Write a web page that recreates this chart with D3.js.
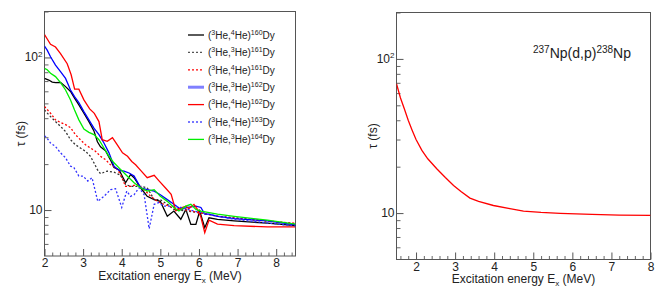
<!DOCTYPE html>
<html>
<head>
<meta charset="utf-8">
<script src="https://cdn.jsdelivr.net/npm/d3@7"></script>
<style>
  body { margin: 0; background: #fff; }
  svg { font-family: "Liberation Sans", Arial, Helvetica, sans-serif; }
  svg text { fill: #222; }
</style>
</head>
<body>
<script>
// ---- data: [E (MeV), tau (fs)] ----
var dy160 = [[2.0,72.9],[2.11,71.1],[2.2,69],[2.29,68.4],[2.415,68.7],[2.545,64.4],[2.674,59.8],[2.778,54.1],[2.89,48.9],[3.02,43.1],[3.15,38.0],[3.28,33.0],[3.37,28.0],[3.45,26.0],[3.58,24.5],[3.7,21.5],[3.8,19.0],[3.93,18.4],[4.1,15.1],[4.23,17.1],[4.32,16.3],[4.49,14.0],[4.66,12.3],[4.84,11.7],[5.0,11.4],[5.18,9.1],[5.35,9.85],[5.53,8.7],[5.66,10.1],[5.79,8.06],[5.92,8.06],[6.02,9.85],[6.15,7.67],[6.26,8.9],[6.48,8.7],[6.91,8.5],[7.77,8.2],[8.5,7.9]];
var dy161a = [[2.0,45.3],[2.11,42.1],[2.24,39.0],[2.415,35.3],[2.545,32.7],[2.674,28.9],[2.8,26.8],[2.93,25.5],[3.06,24.3],[3.19,22.5],[3.28,20.4],[3.37,18.4],[3.45,17.3],[3.62,18.0],[3.8,17.7],[3.97,16.9],[4.1,14.7],[4.23,14.3],[4.49,14.3],[4.66,14.0],[4.84,11.7],[5.0,11.7],[5.18,10.9],[5.35,10.1],[5.7,9.85],[6.05,9.6],[6.48,9.1],[6.91,8.9],[7.77,8.5],[8.5,8.1]];
var dy161b = [[2.0,47.7],[2.156,43.1],[2.285,39.0],[2.415,37.5],[2.545,36.3],[2.674,34.7],[2.8,31.2],[2.93,28.9],[3.06,26.8],[3.19,25.5],[3.32,24.3],[3.45,22.5],[3.58,21.4],[3.7,19.9],[3.85,18.9],[3.97,17.1],[4.1,14.3],[4.23,14.3],[4.4,14.7],[4.58,13.6],[4.75,12.3],[4.92,11.4],[5.1,10.9],[5.3,10.4],[5.6,10.1],[6.0,9.6],[6.5,9.1],[7.0,8.8],[7.8,8.45],[8.5,8.2]];
var dy162a = [[2.0,118.6],[2.07,111.6],[2.156,101],[2.285,89.1],[2.415,80.7],[2.545,72.9],[2.674,61.2],[2.778,55.4],[2.89,50.6],[3.02,44.2],[3.15,39.0],[3.28,34.4],[3.41,31.2],[3.54,27.5],[3.67,23.7],[3.8,19.4],[3.93,18.2],[4.06,18.0],[4.19,17.5],[4.32,16.7],[4.49,14.0],[4.66,13.6],[4.84,13.3],[5.0,12.6],[5.18,11.7],[5.35,10.9],[5.53,10.1],[5.7,10.4],[5.92,10.6],[6.05,10.4],[6.15,9.4],[6.26,9.4],[6.48,9.1],[6.91,8.8],[7.77,8.5],[8.5,8.0]];
var dy162b = [[2.0,141],[2.156,122],[2.285,117],[2.415,106],[2.588,91],[2.69,77],[2.78,62],[2.89,62],[3.02,52.7],[3.17,46],[3.29,43],[3.41,38],[3.495,28.9],[3.625,28.2],[3.76,29.8],[3.89,26.6],[4.02,23.7],[4.15,22.5],[4.26,20.8],[4.36,19.8],[4.49,18.2],[4.66,16.3],[4.84,16.9],[4.96,15.6],[5.14,13.9],[5.28,12.7],[5.4,9.9],[5.53,10.3],[5.66,10.6],[5.74,10.2],[5.87,10.9],[5.96,10.1],[6.05,9.0],[6.15,7.1],[6.26,8.6],[6.48,8.1],[6.91,7.9],[7.77,7.75],[8.5,7.75]];
var dy163 = [[2.0,30.7],[2.07,29.5],[2.156,27.5],[2.285,26.1],[2.415,23.7],[2.545,22.0],[2.674,19.4],[2.76,19.0],[2.89,16.7],[3.0,16.7],[3.12,15.5],[3.23,16.3],[3.38,11.4],[3.54,12.3],[3.71,13.6],[3.84,13.8],[4.0,10.4],[4.13,13.3],[4.23,12.3],[4.32,12.6],[4.45,14.0],[4.58,12.6],[4.71,7.55],[4.84,10.9],[4.96,11.2],[5.09,10.6],[5.35,10.6],[5.53,10.4],[5.87,9.85],[6.22,9.4],[6.91,8.7],[8.5,7.86]];
var dy164 = [[2.0,84.7],[2.07,83.0],[2.156,78.8],[2.285,74.9],[2.415,68.4],[2.545,61.2],[2.674,52.7],[2.778,45.3],[2.89,39.0],[3.02,33.9],[3.15,32.3],[3.28,31.2],[3.41,28.9],[3.54,25.5],[3.67,22.5],[3.8,20.4],[3.93,18.9],[4.1,17.1],[4.32,15.1],[4.49,14.0],[4.66,13.3],[4.84,13.6],[5.0,12.3],[5.18,11.4],[5.35,10.4],[5.48,9.85],[5.66,10.6],[5.79,10.9],[5.92,10.1],[6.05,9.85],[6.48,9.4],[6.91,9.1],[7.77,8.6],[8.5,8.1]];
var np238 = [[1.5,69],[1.6,56],[1.7,47.5],[1.8,40],[1.9,34.5],[2.0,30],[2.15,25.5],[2.3,22.5],[2.53,19.4],[2.75,17.0],[2.96,15.1],[3.15,13.8],[3.38,12.5],[3.6,11.9],[3.98,11.2],[4.4,10.7],[4.75,10.3],[5.2,10.1],[5.69,9.95],[6.5,9.8],[7.2,9.7],[8.0,9.66]];

// legend: [ejectile, projectile mass, target mass]
var legendLabels = [["3","4","160"],["3","3","161"],["3","4","161"],["3","3","162"],["3","4","162"],["3","4","163"],["3","3","164"]];
var yMajor = [10, 100];
var yMinor = [6, 7, 8, 9, 20, 30, 40, 50, 60, 70, 80, 90, 200];

var series = [
  {d: dy160,  c: "#000000", dash: null,  lc: "#000000", lw: 1.3},
  {d: dy161a, c: "#333333", dash: "2,2", lc: "#555555", lw: 1.3},
  {d: dy161b, c: "#ff0000", dash: "2,2", lc: "#ff0000", lw: 1.3},
  {d: dy162a, c: "#0000ff", dash: null,  lc: "#8080ff", lw: 3},
  {d: dy162b, c: "#ff0000", dash: null,  lc: "#ff0000", lw: 1.3},
  {d: dy163,  c: "#3333ff", dash: "2,2", lc: "#7777ff", lw: 2},
  {d: dy164,  c: "#00ee00", dash: null,  lc: "#00ee00", lw: 1.3}
];

var svg = d3.select("body").append("svg").attr("width", 664).attr("height", 293);

function sup(t, base, s, fs, fss) {
  // base text followed by a raised small text
  t.append("tspan").attr("font-size", fs).text(base);
  t.append("tspan").attr("font-size", fss).attr("dy", -fs * 0.38).text(s);
}

function panel(o) {
  var x = d3.scaleLinear().domain(o.xd).range([o.x0, o.x1]);
  var y = d3.scaleLog().domain([5, 200]).range([o.y1, o.y0]);
  var g = svg.append("g");

  var clipId = "clip" + o.id;
  g.append("clipPath").attr("id", clipId).append("rect")
    .attr("x", o.x0).attr("y", o.y0).attr("width", o.x1 - o.x0).attr("height", o.y1 - o.y0);

  // x ticks
  var xMinor = [];
  for (var k = Math.ceil(o.xd[0] * 5); k <= Math.floor(o.xd[1] * 5); k++) if (k % 5) xMinor.push(k / 5);
  var xMajor = d3.range(Math.ceil(o.xd[0]), Math.floor(o.xd[1]) + 1);

  g.append("g").attr("transform", "translate(0," + o.y1 + ")")
    .call(d3.axisBottom(x).tickValues(xMinor).tickSize(-3.5).tickFormat(""))
    .call(function(a) { a.select(".domain").remove(); a.selectAll("line").attr("stroke", "#666"); });
  g.append("g").attr("transform", "translate(0," + o.y1 + ")")
    .call(d3.axisBottom(x).tickValues(xMajor).tickSize(-7).tickPadding(2.5).tickFormat(d3.format("d")))
    .call(function(a) {
      a.select(".domain").remove();
      a.selectAll("line").attr("stroke", "#555");
      a.selectAll("text").attr("font-size", 12).attr("font-family", null).attr("fill", "#222");
    });

  // y ticks
  g.append("g").attr("transform", "translate(" + o.x0 + ",0)")
    .call(d3.axisLeft(y).tickValues(yMinor).tickSize(-4).tickFormat(""))
    .call(function(a) { a.select(".domain").remove(); a.selectAll("line").attr("stroke", "#666"); });
  g.append("g").attr("transform", "translate(" + o.x0 + ",0)")
    .call(d3.axisLeft(y).tickValues(yMajor).tickSize(-7).tickPadding(2).tickFormat(""))
    .call(function(a) {
      a.select(".domain").remove();
      a.selectAll("line").attr("stroke", "#555");
      a.selectAll(".tick text").attr("font-family", null).attr("fill", "#222").each(function(d) {
        var t = d3.select(this);
        if (d === 100) sup(t, "10", "2", 12, 8);
        else t.append("tspan").attr("font-size", 12).text("10");
      });
    });

  // frame
  g.append("rect").attr("x", o.x0).attr("y", o.y0).attr("width", o.x1 - o.x0).attr("height", o.y1 - o.y0)
    .attr("fill", "none").attr("stroke", "#555").attr("stroke-width", 1);

  // titles
  var xt = g.append("text").attr("x", (o.x0 + o.x1) / 2).attr("y", o.xty)
    .attr("text-anchor", "middle").attr("font-size", 12);
  xt.append("tspan").text("Excitation energy E");
  xt.append("tspan").attr("font-size", 8).attr("dy", 3).text("x");
  xt.append("tspan").attr("dy", -3).text(" (MeV)");

  g.append("text").attr("transform", "translate(" + o.ytx + "," + ((o.y0 + o.y1) / 2) + ") rotate(-90)")
    .attr("text-anchor", "middle").attr("font-size", 12).text("\u03c4 (fs)");

  var line = d3.line().x(function(d) { return x(d[0]); }).y(function(d) { return y(d[1]); });
  var lines = g.append("g").attr("clip-path", "url(#" + clipId + ")");
  return {x: x, y: y, g: g, lines: lines, line: line};
}

// left panel
var L = panel({id: "L", x0: 44.5, x1: 295.5, y0: 11.5, y1: 256, xd: [2, 8.5], xty: 279.5, ytx: 24.5});
series.forEach(function(s) {
  L.lines.append("path").datum(s.d).attr("d", L.line)
    .attr("fill", "none").attr("stroke", s.c).attr("stroke-width", 1.3)
    .attr("stroke-dasharray", s.dash);
});

// legend
var leg = L.g.append("g");
series.forEach(function(s, i) {
  var yy = 35 + i * 17.4;
  leg.append("line").attr("x1", 188).attr("x2", 204).attr("y1", yy).attr("y2", yy)
    .attr("stroke", s.lc).attr("stroke-width", s.lw).attr("stroke-dasharray", s.dash);
  var lab = legendLabels[i];
  var t = leg.append("text").attr("x", 208).attr("y", yy + 3.8).attr("font-size", 10);
  t.append("tspan").text("(");
  t.append("tspan").attr("font-size", 7).attr("dy", -4).text(lab[0]);
  t.append("tspan").attr("dy", 4).text("He,");
  t.append("tspan").attr("font-size", 7).attr("dy", -4).text(lab[1]);
  t.append("tspan").attr("dy", 4).text("He)");
  t.append("tspan").attr("font-size", 7).attr("dy", -4).text(lab[2]);
  t.append("tspan").attr("dy", 4).text("Dy");
});

// right panel
var R = panel({id: "R", x0: 396.5, x1: 650.5, y0: 12.5, y1: 259.5, xd: [1.5, 8], xty: 283, ytx: 376.5});
R.lines.append("path").datum(np238).attr("d", R.line)
  .attr("fill", "none").attr("stroke", "#ff0000").attr("stroke-width", 1.3);

var nt = R.g.append("text").attr("x", 533).attr("y", 58).attr("font-size", 14);
nt.append("tspan").attr("font-size", 10).attr("dy", -5).text("237");
nt.append("tspan").attr("dy", 5).text("Np(d,p)");
nt.append("tspan").attr("font-size", 10).attr("dy", -5).text("238");
nt.append("tspan").attr("dy", 5).text("Np");
</script>
</body>
</html>
